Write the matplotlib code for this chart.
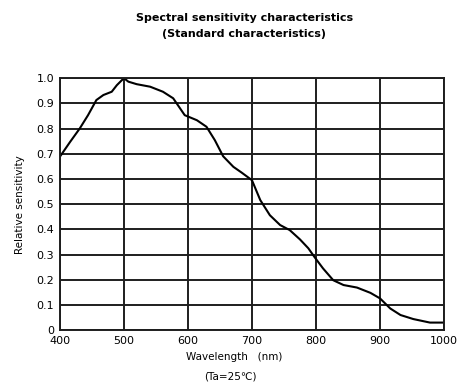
import numpy as np
import matplotlib.pyplot as plt

# Точки кривой
wavelength = [400, 416, 431, 444, 457, 468, 481, 489, 500, 507, 520, 541, 561, 577,
              595, 614, 629, 642, 655, 671, 684, 700, 713, 728, 744, 759, 775, 788,
              798, 811, 827, 843, 864, 885, 900, 916, 932, 952, 978, 1000]
sensitivity = [0.688, 0.747, 0.800, 0.853, 0.913, 0.933, 0.946, 0.972, 1.000, 0.986,
               0.976, 0.966, 0.946, 0.920, 0.853, 0.833, 0.807, 0.754, 0.690, 0.648,
               0.625, 0.595, 0.516, 0.456, 0.417, 0.397, 0.360, 0.325, 0.289, 0.245,
               0.198, 0.179, 0.169, 0.148, 0.126, 0.086, 0.060, 0.044, 0.030, 0.030]

x_ticks = [400, 500, 600, 700, 800, 900, 1000]
y_ticks = [0, 0.1, 0.2, 0.3, 0.4, 0.5, 0.6, 0.7, 0.8, 0.9, 1.0]
y_labels = ['0', '0.1', '0.2', '0.3', '0.4', '0.5', '0.6', '0.7', '0.8', '0.9', '1.0']

fig = plt.figure(figsize=(4.64, 3.83), dpi=100)
ax = fig.add_axes([0.129, 0.138, 0.828, 0.658])

ax.plot(wavelength, sensitivity, color='black', linewidth=1.5)

ax.set_xlim(400, 1000)
ax.set_ylim(0, 1.0)
ax.set_xticks(x_ticks)
ax.set_yticks(y_ticks)
ax.set_yticklabels(y_labels)
ax.tick_params(length=0, labelsize=8, pad=4)
for lbl in ax.get_xticklabels() + ax.get_yticklabels():
    lbl.set_fontweight('medium')
ax.grid(True, color='#1e1e1e', linewidth=1.4)
for s in ax.spines.values():
    s.set_color('#1e1e1e')
    s.set_linewidth(1.4)

ax.set_ylabel('Relative sensitivity', fontsize=7.5, labelpad=8)

fig.text(0.526, 0.953, 'Spectral sensitivity characteristics', ha='center', va='center',
         fontsize=8, fontweight='bold')
fig.text(0.526, 0.912, '(Standard characteristics)', ha='center', va='center',
         fontsize=8, fontweight='bold')
fig.text(0.505, 0.068, 'Wavelength   (nm)', ha='center', va='center', fontsize=7.5)
fig.text(0.497, 0.018, '(Ta=25\u2103)', ha='center', va='center', fontsize=7.5)

fig.savefig('out.png', dpi=100)
